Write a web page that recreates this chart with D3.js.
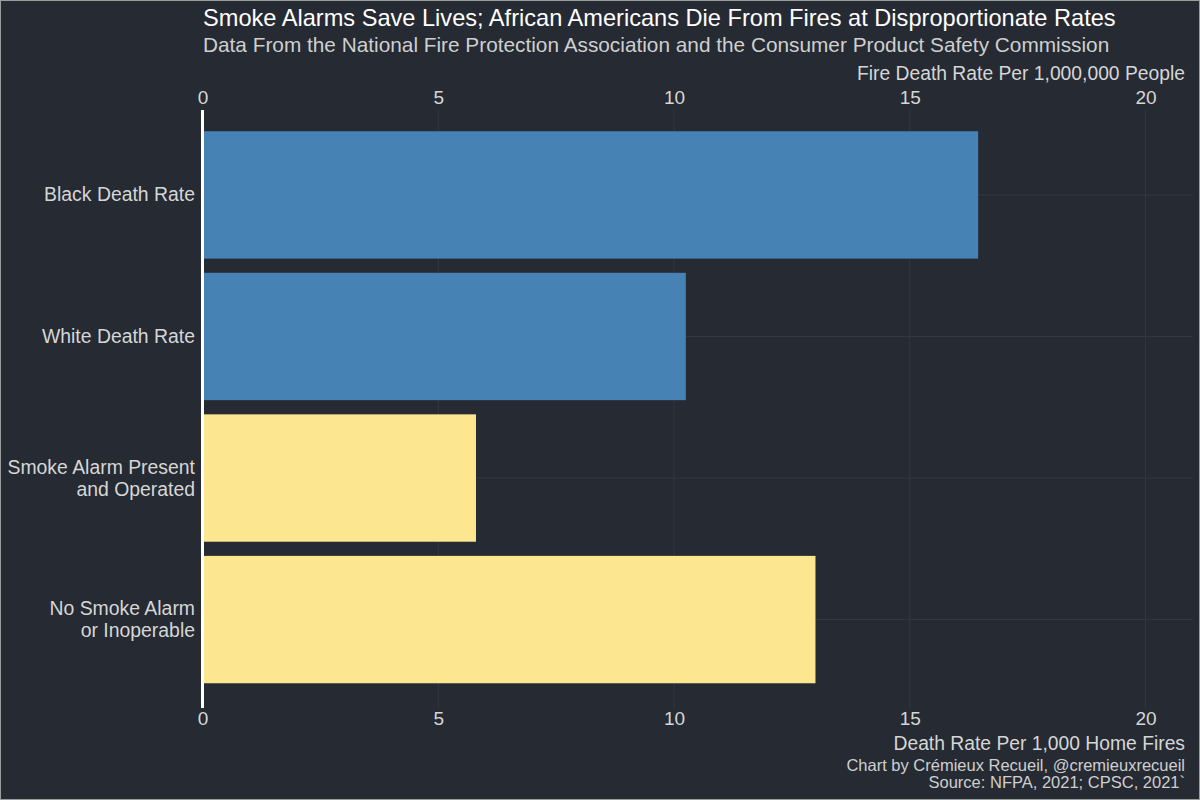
<!DOCTYPE html>
<html>
<head>
<meta charset="utf-8">
<script src="https://cdn.jsdelivr.net/npm/d3@7"></script>
<style>
  body { margin: 0; background: #252a33; }
  svg { display: block; font-family: "Liberation Sans", Arial, sans-serif; }
</style>
</head>
<body>
<div id="chart"></div>
<script>
// data
var categories = ["Black Death Rate", "White Death Rate", "Smoke Alarm Present\nand Operated", "No Smoke Alarm\nor Inoperable"];
var values = [16.45, 10.25, 5.8, 13.0];
var groups = ["race", "race", "alarm", "alarm"];
var xTicks = [0, 5, 10, 15, 20];

var width = 1200, height = 800;
var pLeft = 202.5, pRight = 1192.7, pTop = 110, pBottom = 708;

var color = d3.scaleOrdinal().domain(["race", "alarm"]).range(["#4682b4", "#fce68f"]);

var x = d3.scaleLinear().domain([0, 21]).range([pLeft, pRight]);
var y = d3.scaleBand().domain(categories).range([pTop, 704.5])
    .paddingInner(0.1).paddingOuter(0.15);

var svg = d3.select('#chart').append('svg')
    .attr('width', width)
    .attr('height', height);

svg.append('rect')
    .attr('x', 0.5).attr('y', 0.5)
    .attr('width', width - 1).attr('height', height - 1)
    .attr('fill', '#252a33')
    .attr('stroke', '#9a9ca0');

// grid
svg.append('g').selectAll('line')
    .data(xTicks)
    .enter().append('line')
    .attr('x1', function(d){ return x(d); })
    .attr('x2', function(d){ return x(d); })
    .attr('y1', pTop).attr('y2', pBottom)
    .attr('stroke', '#333844').attr('stroke-width', 1);

svg.append('g').selectAll('line')
    .data(categories)
    .enter().append('line')
    .attr('x1', pLeft).attr('x2', pRight)
    .attr('y1', function(d){ return y(d) + y.bandwidth()/2; })
    .attr('y2', function(d){ return y(d) + y.bandwidth()/2; })
    .attr('stroke', '#333844').attr('stroke-width', 1);

// bars
svg.append('g').selectAll('rect')
    .data(values)
    .enter().append('rect')
    .attr('x', x(0))
    .attr('y', function(d, i){ return y(categories[i]); })
    .attr('width', function(d){ return x(d) - x(0); })
    .attr('height', y.bandwidth())
    .attr('fill', function(d, i){ return color(groups[i]); });

// y axis line
svg.append('line')
    .attr('x1', pLeft).attr('x2', pLeft)
    .attr('y1', pTop).attr('y2', pBottom)
    .attr('stroke', '#ffffff').attr('stroke-width', 3);

// y labels
var yl = svg.append('g').selectAll('text')
    .data(categories)
    .enter().append('text')
    .attr('text-anchor', 'end')
    .attr('fill', '#d6d6d6')
    .style('font-size', '19.4px');
yl.each(function(d){
  var lines = d.split('\n');
  var cy = y(d) + y.bandwidth()/2;
  var t = d3.select(this);
  lines.forEach(function(s, j){
    t.append('tspan')
      .attr('x', 195)
      .attr('y', cy + (j - (lines.length - 1)/2) * 22 + 6.5)
      .text(s);
  });
});

// axes top and bottom
var axTop = svg.append('g')
    .attr('transform', 'translate(0,' + pTop + ')')
    .call(d3.axisTop(x).tickValues(xTicks).tickSize(0).tickPadding(6));
var axBot = svg.append('g')
    .attr('transform', 'translate(0,' + pBottom + ')')
    .call(d3.axisBottom(x).tickValues(xTicks).tickSize(0).tickPadding(3));
[axTop, axBot].forEach(function(a){
  a.select('.domain').remove();
  a.selectAll('text')
    .attr('fill', '#d6d6d6')
    .style('font-size', '19px')
    .style('font-family', '"Liberation Sans", Arial, sans-serif');
});

// titles
svg.append('text')
    .attr('x', 203).attr('y', 26)
    .attr('fill', '#ffffff')
    .style('font-size', '23.6px')
    .text('Smoke Alarms Save Lives; African Americans Die From Fires at Disproportionate Rates');

svg.append('text')
    .attr('x', 203).attr('y', 52)
    .attr('fill', '#cfcfcf')
    .style('font-size', '20.8px')
    .text('Data From the National Fire Protection Association and the Consumer Product Safety Commission');

svg.append('text')
    .attr('x', 1185).attr('y', 80)
    .attr('text-anchor', 'end')
    .attr('fill', '#d6d6d6')
    .style('font-size', '19.3px')
    .text('Fire Death Rate Per 1,000,000 People');

svg.append('text')
    .attr('x', 1185).attr('y', 750)
    .attr('text-anchor', 'end')
    .attr('fill', '#d6d6d6')
    .style('font-size', '19.3px')
    .text('Death Rate Per 1,000 Home Fires');

svg.append('text')
    .attr('x', 1185).attr('y', 771)
    .attr('text-anchor', 'end')
    .attr('fill', '#cfcfcf')
    .style('font-size', '16.5px')
    .text('Chart by Crémieux Recueil, @cremieuxrecueil');

svg.append('text')
    .attr('x', 1185).attr('y', 788)
    .attr('text-anchor', 'end')
    .attr('fill', '#cfcfcf')
    .style('font-size', '16.5px')
    .text('Source: NFPA, 2021; CPSC, 2021`');
</script>
</body>
</html>
